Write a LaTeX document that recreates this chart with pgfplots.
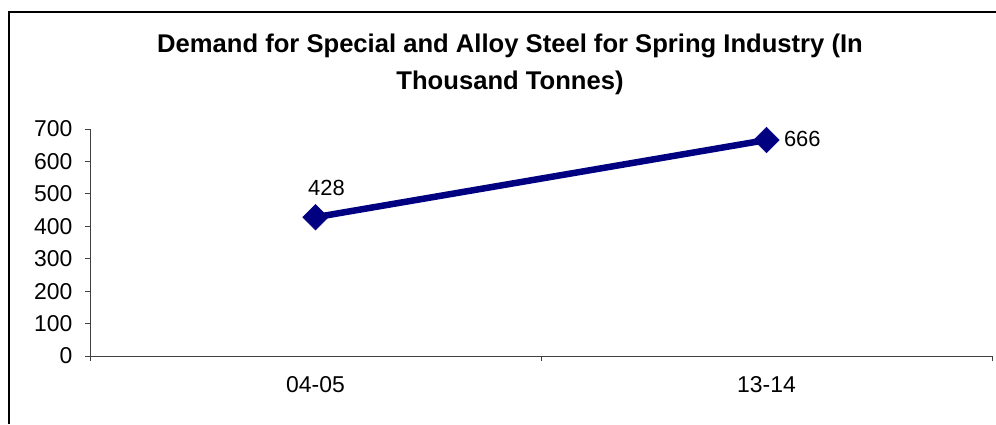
\documentclass[border=0pt]{standalone}
\usepackage{pgfplots}
\pgfplotsset{compat=1.18}
\usepackage{fontspec}
\setmainfont{Liberation Sans}
\definecolor{navyline}{RGB}{0,0,128}
\begin{document}
\begin{tikzpicture}[x=1bp,y=1bp]
\path[use as bounding box] (0,0) rectangle (996,424);
\draw[line width=1.5bp] (9,0) -- (9,412) -- (996,412);
\node[anchor=base, font=\fontsize{25.7}{30}\selectfont\bfseries] at (510,372)
  {Demand for Special and Alloy Steel for Spring Industry (In};
\node[anchor=base, font=\fontsize{25.7}{30}\selectfont\bfseries] at (510,335)
  {Thousand Tonnes)};
\begin{axis}[
  at={(90bp,68bp)}, anchor=south west,
  scale only axis, width=902bp, height=227bp,
  xmin=0.5, xmax=2.5, ymin=0, ymax=700,
  axis lines*=left,
  axis line style={line width=0.8bp, color=black!75},
  xtick={0.5,1.5,2.5},
  x tick label as interval,
  xticklabels={04-05,13-14},
  ytick={0,100,...,700},
  tick align=outside,
  major tick length=5bp,
  tick style={line width=0.8bp, color=black!75},
  ticklabel style={font=\fontsize{23}{27}\selectfont},
  /pgf/number format/assume math mode=true,
  yticklabel style={xshift=-9bp},
  xticklabel style={yshift=-12bp},
  clip=false,
]
\addplot[navyline, line width=6.5bp, mark=square*, mark size=9bp,
  mark options={rotate=45, line width=0.5bp}]
  coordinates {(1,428) (2,666)};
\addplot[draw=none, nodes near coords, point meta=explicit symbolic,
  every node near coord/.append style={font=\fontsize{22}{26}\selectfont, anchor=base, xshift=11bp, yshift=22bp}]
  coordinates {(1,428) [428]};
\addplot[draw=none, nodes near coords, point meta=explicit symbolic,
  every node near coord/.append style={font=\fontsize{22}{26}\selectfont, anchor=base west, xshift=14bp, yshift=-6bp}]
  coordinates {(2,666) [666]};
\end{axis}
\end{tikzpicture}
\end{document}
